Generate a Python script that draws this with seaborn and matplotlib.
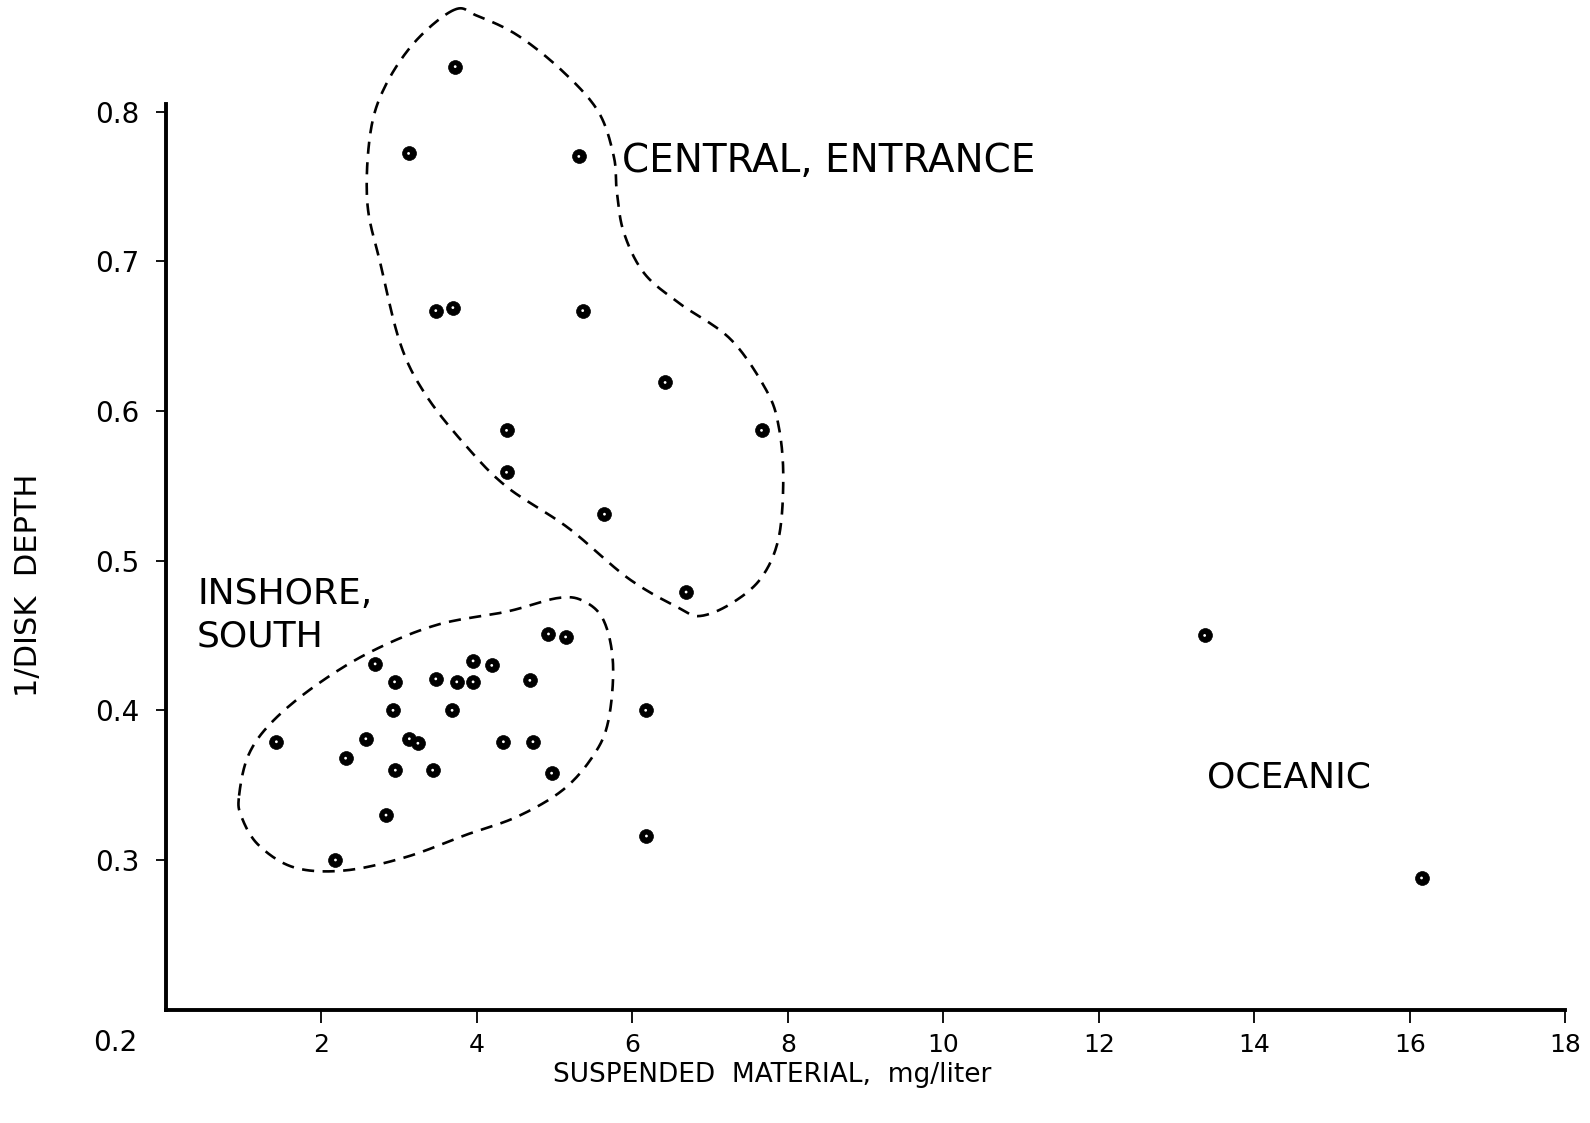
import numpy as np
import pandas as pd
import matplotlib
matplotlib.use("Agg")
import matplotlib.pyplot as plt
import seaborn as sns

# ---------------- data ----------------
central_x = [3.72, 3.12, 5.31, 3.47, 3.69, 5.36, 6.42, 4.38, 7.66, 4.38, 5.64, 6.69]
central_y = [0.830, 0.772, 0.770, 0.667, 0.669, 0.667, 0.619, 0.587, 0.587, 0.559, 0.531, 0.479]

inshore_x = [4.92, 5.14, 2.69, 3.95, 4.19, 2.94, 3.47, 3.74, 3.95, 4.68, 2.92, 3.68,
             1.42, 2.57, 3.13, 3.24, 4.34, 4.72, 2.31, 2.95, 3.43, 4.96, 2.83, 2.18]
inshore_y = [0.451, 0.449, 0.431, 0.433, 0.430, 0.419, 0.421, 0.419, 0.419, 0.420, 0.400, 0.400,
             0.379, 0.381, 0.381, 0.378, 0.379, 0.379, 0.368, 0.360, 0.360, 0.358, 0.330, 0.300]

between_x = [6.17, 6.18]
between_y = [0.400, 0.316]

oceanic_x = [13.36, 16.15]
oceanic_y = [0.450, 0.288]

# hand-drawn dashed outlines (vertices, data units)
central_outline_x = [3.71, 4.00, 4.52, 5.10, 5.56, 5.76, 5.80, 5.89, 6.15, 6.60, 7.26, 7.72,
                     7.88, 7.94, 7.88, 7.65, 7.26, 6.87, 6.61, 5.95, 5.17, 4.39, 3.87, 3.35,
                     3.02, 2.76, 2.59, 2.63, 2.82, 3.21]
central_outline_y = [0.868, 0.864, 0.851, 0.827, 0.800, 0.770, 0.746, 0.719, 0.692, 0.672, 0.648, 0.614,
                     0.590, 0.556, 0.515, 0.488, 0.471, 0.463, 0.468, 0.488, 0.522, 0.549, 0.576, 0.610,
                     0.644, 0.698, 0.739, 0.786, 0.817, 0.847]

inshore_outline_x = [0.94, 1.06, 1.36, 1.91, 2.63, 3.48, 4.39, 5.04, 5.37, 5.63, 5.75,
                     5.69, 5.50, 5.11, 4.52, 3.87, 3.09, 2.30, 1.65, 1.19, 0.97]
inshore_outline_y = [0.343, 0.370, 0.392, 0.416, 0.439, 0.457, 0.466, 0.475, 0.473, 0.460, 0.431,
                     0.393, 0.370, 0.347, 0.329, 0.317, 0.302, 0.293, 0.295, 0.310, 0.329]

x_ticks = [2, 4, 6, 8, 10, 12, 14, 16, 18]
y_ticks = [0.3, 0.4, 0.5, 0.6, 0.7, 0.8]

x_label = "SUSPENDED  MATERIAL,  mg/liter"
y_label = "1/DISK  DEPTH"

# ---------------- build table ----------------
df = pd.DataFrame({
    "x": central_x + inshore_x + between_x + oceanic_x,
    "y": central_y + inshore_y + between_y + oceanic_y,
    "group": (["central"] * len(central_x) + ["inshore"] * len(inshore_x)
              + ["between"] * len(between_x) + ["oceanic"] * len(oceanic_x)),
})


def smooth_closed(xs, ys, n=24):
    P = np.column_stack([xs, ys])
    N = len(P)
    t = np.linspace(0, 1, n, endpoint=False)[:, None]
    segs = []
    for i in range(N):
        p0, p1, p2, p3 = P[i - 1], P[i], P[(i + 1) % N], P[(i + 2) % N]
        segs.append(0.5 * (2 * p1 + (-p0 + p2) * t + (2 * p0 - 5 * p1 + 4 * p2 - p3) * t ** 2
                           + (-p0 + 3 * p1 - 3 * p2 + p3) * t ** 3))
    out = np.vstack(segs)
    out = np.vstack([out, out[:1]])
    return out[:, 0], out[:, 1]


# ---------------- figure ----------------
sns.set_style("ticks")
plt.rcParams["font.family"] = ["DejaVu Sans"]
plt.rcParams["text.color"] = "black"
plt.rcParams["axes.labelcolor"] = "black"

fig = plt.figure(figsize=(15.9, 11.23), dpi=100)
ax = fig.add_axes([0.1044, 0.1009, 0.8801, 0.8991])

sns.scatterplot(data=df, x="x", y="y", color="black", s=100, edgecolor="black",
                linewidth=0.5, legend=False, ax=ax, zorder=3)
sns.scatterplot(data=df, x="x", y="y", color="white", s=4, edgecolor="none",
                legend=False, ax=ax, zorder=4)

for ox, oy in [(central_outline_x, central_outline_y), (inshore_outline_x, inshore_outline_y)]:
    sx, sy = smooth_closed(ox, oy)
    ax.plot(sx, sy, color="black", lw=1.9, linestyle=(0, (4.6, 3.2)), zorder=2)

ax.set_xlim(0, 18)
ax.set_ylim(0.2, 0.8745)
ax.set_xticks(x_ticks)
ax.set_xticklabels([str(v) for v in x_ticks])
ax.set_yticks(y_ticks)
ax.set_yticklabels([f"{v:.1f}" for v in y_ticks])

for side in ["top", "right"]:
    ax.spines[side].set_visible(False)
ax.spines["left"].set_bounds(0.2, 0.805)
ax.spines["bottom"].set_bounds(0, 18)
for side in ["left", "bottom"]:
    ax.spines[side].set_linewidth(2.8)
    ax.spines[side].set_color("black")

ax.tick_params(axis="x", direction="out", length=9, width=1.3, pad=8, labelsize=18, colors="black")
ax.tick_params(axis="y", direction="out", length=7, width=1.3, pad=12, labelsize=20, colors="black")

ax.set_xlabel(x_label, fontsize=19)
ax.xaxis.set_label_coords(0.433, -0.052)
ax.set_ylabel(y_label, fontsize=22)
ax.yaxis.set_label_coords(-0.088, 0.42)

# corner tick label 0.2
ax.text(-0.37, 0.178, "0.2", ha="right", va="center", fontsize=20, clip_on=False)

# group labels
ax.text(5.87, 0.767, "CENTRAL, ENTRANCE", ha="left", va="center", fontsize=28)
ax.text(0.40, 0.4636, "INSHORE,\nSOUTH", ha="left", va="center", fontsize=26, linespacing=1.32)
ax.text(13.39, 0.355, "OCEANIC", ha="left", va="center", fontsize=26)

fig.savefig("out.png", dpi=100, facecolor="white")
